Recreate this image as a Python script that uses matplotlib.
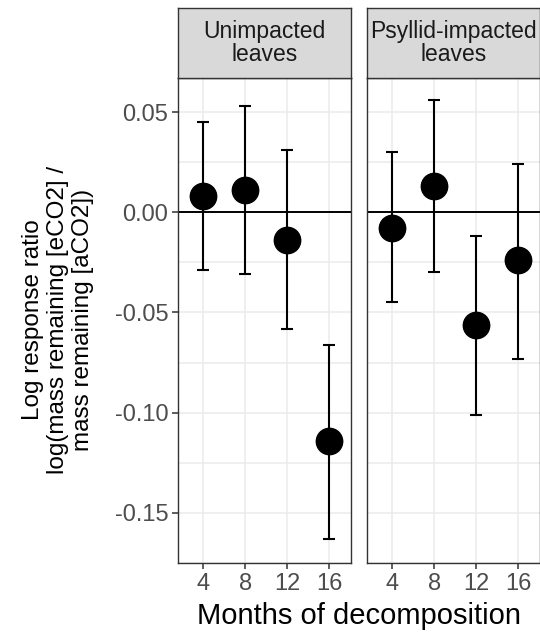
import numpy as np
import matplotlib
matplotlib.use("Agg")
import matplotlib.pyplot as plt

months = [4, 8, 12, 16]
panels = ["Unimpacted\nleaves", "Psyllid-impacted\nleaves"]

unimp_mean = [0.008, 0.011, -0.014, -0.114]
unimp_hi = [0.045, 0.053, 0.031, -0.066]
unimp_lo = [-0.029, -0.031, -0.058, -0.163]

psyl_mean = [-0.008, 0.013, -0.056, -0.024]
psyl_hi = [0.030, 0.056, -0.012, 0.024]
psyl_lo = [-0.045, -0.030, -0.101, -0.073]

series = [(unimp_mean, unimp_hi, unimp_lo), (psyl_mean, psyl_hi, psyl_lo)]

plt.rcParams['font.family'] = ['Liberation Sans', 'DejaVu Sans']

W, H = 540, 637
fig = plt.figure(figsize=(W / 100, H / 100), dpi=100)

panel_x = [178, 367]
panel_w = 173
top, bottom = 78, 563
strip_top = 8

for i, (mean, hi, lo) in enumerate(series):
    ax = fig.add_axes([panel_x[i] / W, 1 - bottom / H, panel_w / W, (bottom - top) / H])
    ax.set_xlim(1.6, 18.1)
    ax.set_ylim(-0.174, 0.067)
    ax.set_xticks(months)
    ax.set_yticks([0.05, 0.0, -0.05, -0.10, -0.15])
    ax.set_yticks(np.arange(-0.175, 0.07, 0.025), minor=True)
    ax.set_yticklabels(["0.05", "0.00", "-0.05", "-0.10", "-0.15"])
    ax.grid(True, axis='x', which='major', color='#EBEBEB', lw=1.1)
    ax.grid(True, axis='y', which='both', color='#EBEBEB', lw=1.1)
    ax.tick_params(axis='y', which='minor', length=0)
    ax.set_axisbelow(True)
    for s in ax.spines.values():
        s.set_color('#333333')
        s.set_linewidth(1.0)
    ax.tick_params(axis='both', which='major', colors='#333333', length=4, width=1.1,
                   labelsize=17, labelcolor='#4D4D4D', pad=3)
    if i == 1:
        ax.tick_params(axis='y', which='both', left=False, labelleft=False)
    ax.axhline(0, color='black', lw=1.4, zorder=2)
    m = np.array(mean)
    yerr = [m - np.array(lo), np.array(hi) - m]
    ax.errorbar(months, m, yerr=yerr, fmt='o', color='black', ms=19,
                elinewidth=1.5, capsize=4.5, capthick=1.5, zorder=3)

    sax = fig.add_axes([panel_x[i] / W, 1 - top / H, panel_w / W, (top - strip_top) / H])
    sax.set_xticks([])
    sax.set_yticks([])
    sax.set_facecolor('#D9D9D9')
    for s in sax.spines.values():
        s.set_color('#333333')
        s.set_linewidth(1.0)
    sax.text(0.5, 0.5, panels[i], ha='center', va='center', fontsize=16.5,
             color='#1A1A1A', linespacing=1.05, transform=sax.transAxes)

fig.text(0.5 * (178 + 540) / W, 1 - 616 / H, "Months of decomposition",
         ha='center', va='center', fontsize=21)
fig.text(58 / W, 1 - 320 / H,
         "Log response ratio\nlog(mass remaining [eCO2] /\nmass remaining [aCO2])",
         ha='center', va='center', rotation=90, fontsize=17.5, linespacing=1.2)

fig.savefig("out.png", dpi=100)
